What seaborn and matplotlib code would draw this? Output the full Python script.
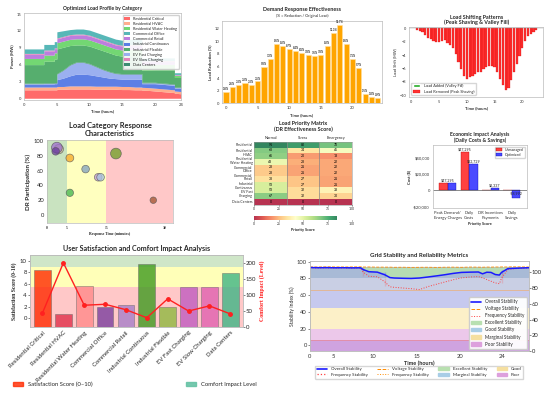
import numpy as np
import pandas as pd
import seaborn as sns
import matplotlib.pyplot as plt
from matplotlib.patches import Patch
from matplotlib.lines import Line2D
from matplotlib.ticker import FuncFormatter

# ---------------- data ----------------
# load profile by category (MW)
profile_t = [0, 3, 3, 4.6, 4.6, 5, 5, 6, 7, 8, 9, 10, 11, 12, 13, 14, 15, 16, 17, 18, 18, 19, 20, 21, 22, 23, 23, 24]
res_critical = [1.5, 1.5, 1.5, 1.5, 1.5, 1.5, 1.6, 1.6, 1.65, 1.65, 1.65, 1.65, 1.6, 1.6, 1.6, 1.6, 1.55, 1.55, 1.5, 1.5, 1.45, 1.4, 1.3, 1.2, 1.1, 1.0, 0.9, 0.8]
res_hvac = [0.5, 0.5, 0.5, 0.5, 0.5, 0.5, 0.5, 0.5, 0.55, 0.55, 0.55, 0.55, 0.55, 0.55, 0.55, 0.55, 0.55, 0.55, 0.5, 0.5, 0.5, 0.5, 0.5, 0.5, 0.5, 0.5, 0.4, 0.4]
ind_continuous = [0.5, 0.5, 0.55, 0.55, 0.6, 0.6, 1.2, 1.5, 1.8, 2.1, 2.1, 2.0, 1.85, 1.65, 1.45, 1.35, 1.3, 1.3, 1.4, 1.4, 0.65, 0.7, 0.8, 0.8, 0.8, 0.8, 0.5, 0.6]
ev_fast = [0.1, 0.1, 0.1, 0.1, 0.1, 0.1, 1.0, 1.4, 1.9, 2.1, 2.1, 1.9, 1.6, 1.3, 1.1, 0.9, 0.9, 0.9, 0.9, 0.9, 0.15, 0.15, 0.15, 0.15, 0.15, 0.15, 0.1, 0.1]
data_centers = [0.1, 0.1, 0.1, 0.1, 0.1, 0.1, 0.1, 0.1, 0.1, 0.1, 0.1, 0.1, 0.1, 0.1, 0.1, 0.1, 0.1, 0.1, 0.1, 0.1, 0.1, 0.1, 0.1, 0.1, 0.1, 0.1, 0.1, 0.1]
ind_flexible = [3.3, 3.3, 3.85, 3.85, 4.2, 4.2, 4.4, 4.0, 3.4, 3.0, 3.0, 3.1, 3.2, 3.3, 3.3, 3.2, 3.1, 3.2, 3.2, 3.2, 2.15, 2.15, 2.2, 2.3, 2.4, 2.5, 1.7, 1.7]
res_water = [1.1, 1.1, 1.1, 1.1, 1.1, 1.1, 1.1, 1.1, 1.1, 1.1, 1.1, 1.1, 1.1, 1.1, 1.1, 1.1, 1.1, 1.1, 1.1, 1.1, 1.0, 1.0, 1.0, 1.0, 1.0, 1.0, 0.4, 0.4]
com_retail = [0.75, 0.75, 0.75, 0.75, 0.75, 0.75, 0.7, 0.7, 0.7, 0.7, 0.7, 0.7, 0.7, 0.7, 0.7, 0.7, 0.7, 0.7, 0.7, 0.7, 0.5, 0.5, 0.5, 0.5, 0.5, 0.5, 0.1, 0.1]
ev_slow = [0.15, 0.15, 0.15, 0.15, 0.15, 0.15, 0.15, 0.15, 0.15, 0.15, 0.15, 0.15, 0.15, 0.15, 0.15, 0.15, 0.15, 0.15, 0.15, 0.15, 0.15, 0.15, 0.15, 0.15, 0.15, 0.15, 0.05, 0.05]
com_office = [0.8, 0.8, 1.0, 1.0, 1.1, 1.1, 1.1, 1.0, 0.9, 0.9, 0.9, 0.9, 0.9, 0.9, 0.9, 0.9, 0.9, 0.95, 1.0, 1.0, 0.5, 0.5, 0.5, 0.5, 0.5, 0.5, 0.3, 0.3]

categories = ['Residential Critical', 'Residential HVAC', 'Residential Water Heating',
              'Commercial Office', 'Commercial Retail', 'Industrial Continuous',
              'Industrial Flexible', 'EV Fast Charging', 'EV Slow Charging', 'Data Centers']

# demand response effectiveness (%)
dr_hours = list(range(25))
dr_pct = [1.8, 2.6, 3.0, 3.2, 3.0, 3.5, 5.8, 7.2, 9.6, 9.2, 8.7, 8.4, 8.1, 7.8, 7.6, 7.8,
          9.2, 11.3, 12.7, 9.6, 7.1, 5.7, 1.5, 1.0, 0.9]

# load shifting (MW), half-hourly
shift_t = np.arange(0, 24, 0.5)
load_shift = [0.1, 0.1, -0.2, -0.4, -0.6, -1.0, -1.4, -1.6, -1.85, -2.05, -2.1, -1.95,
              -1.7, -2.2, -2.45, -2.9, -3.9, -5.1, -6.1, -7.2, -7.6, -7.3, -7.1, -6.8,
              -6.6, -6.6, -6.1, -5.75, -5.6, -5.6, -5.85, -6.6, -7.6, -8.5, -9.2, -8.9,
              -7.8, -6.6, -5.4, -4.15, -2.9, -1.95, -1.2, -0.85, -0.5, -0.25, 0.1, 0.05]

# response characteristics
resp_time = [3.0, 2.5, 2.2, 9.8, 13.0, 27.0, 17.5, 5.8, 5.8, 13.6]
resp_part = [89, 91, 86, 62, 51, 20, 83, 77, 30, 51]
resp_size = [45, 60, 30, 30, 30, 22, 60, 32, 28, 30]
resp_colors = ['#c8b49a', '#a070d0', '#6a3d9a', '#7f9fbf', '#c09ad8', '#a0522d',
               '#6b9e23', '#f5a623', '#3cb44b', '#a8c4e0']

# priority matrix
prio_cols = ['Normal', 'Stress', 'Emergency']
prio_normal = [91, 68, 66, 48, 28, 28, 33, 53, 53, 67, 0]
prio_stress = [80, 34, 20, 23, 21, 21, 27, 27, 32, 32, 0]
prio_emerg = [70, 45, 18, 22, 22, 22, 21, 21, 38, 30, 0]
prio_labels = ['Residential', 'Residential\nHVAC', 'Residential\nWater Heating',
               'Commercial\nOffice', 'Commercial\nRetail', 'Industrial\nContinuous',
               'EV Fast\nCharging', 'Data Centers']

# economics ($)
econ_cats = ['Peak Demand/\nEnergy Charges', 'Daily\nCosts', 'DR Incentives\nPayments', 'Daily\nSavings']
econ_unmanaged = [8600, 47295, 0, 0]
econ_optimized = [8600, 32729, 2337, -8992]
econ_text = ['$47,295', '$47,295', '$32,729', '$2,337', '-$8,992']

# satisfaction / comfort
satisfaction = [8.5, 0.75, 5.7, 2.0, 2.4, 9.4, 2.0, 5.5, 5.5, 7.9]
comfort = [44, 200, 68, 71, 54, 29, 88, 50, 66, 41]
sat_colors = ['#ff2a00', '#e0304a', '#ff8a8a', '#7b3f9e', '#a67fc8', '#3f9a1f',
              '#8fb840', '#c05cc0', '#e060b0', '#3fb585']

# grid stability (%)
stab_t = [0, 1, 2, 3, 4, 5, 6, 6.3, 6.3, 7, 8, 8.9, 8.9, 9.5, 10, 11, 12, 13, 14, 15, 16, 17,
          18, 19, 20, 20.5, 21, 21.5, 22, 22.5, 22.75, 22.75, 23.5, 24, 25, 26]
overall = [92.8, 92.6, 92.7, 92.5, 92.6, 92.4, 92.5, 92.4, 88.5, 87.8, 87.3, 87.0, 81.2, 80.8,
           80.3, 80.0, 79.8, 80.3, 81.5, 82.8, 84.2, 85.8, 87.0, 87.3, 87.5, 85.3, 87.2, 87.0,
           84.5, 83.8, 84.5, 89.5, 91.5, 91.8, 92.2, 92.6]
frequency = [92.3, 92.2, 92.4, 92.1, 92.3, 92.0, 92.2, 92.0, 83.0, 82.4, 81.8, 80.8, 70.5, 69.8,
             69.2, 68.4, 67.6, 66.5, 70.0, 72.8, 75.5, 78.2, 80.5, 81.5, 82.0, 80.5, 78.5, 76.5,
             74.5, 73.5, 74.5, 86.0, 90.5, 91.2, 91.8, 92.3]
voltage = [93.6, 93.5, 93.7, 93.6, 93.5, 93.6, 93.7, 93.5, 93.4, 93.5, 93.3, 93.4, 93.2, 93.3,
           93.1, 93.2, 93.0, 93.1, 93.2, 93.0, 93.2, 93.3, 93.1, 93.4, 93.3, 93.2, 93.4, 93.3,
           93.5, 93.4, 93.5, 93.6, 93.5, 93.7, 93.6, 93.5]
stab_bands = [(80, 93), (65, 80), (44, 65), (20, 44), (6, 20), (-7, 6)]
stab_band_colors = ['#a8bad6', '#c9cfe4', '#c6c9ee', '#fcf0c8', '#ecc8ea', '#cfa3e0']

# ---------------- style ----------------
sns.set_style("white")
plt.rcParams['font.family'] = ['Lato', 'DejaVu Sans']
plt.rcParams['axes.edgecolor'] = '#bbbbbb'
plt.rcParams['axes.linewidth'] = 0.5
plt.rcParams['xtick.major.size'] = 1.2
plt.rcParams['ytick.major.size'] = 1.2
plt.rcParams['xtick.major.width'] = 0.4
plt.rcParams['ytick.major.width'] = 0.4
plt.rcParams['xtick.major.pad'] = 1
plt.rcParams['ytick.major.pad'] = 1

fig = plt.figure(figsize=(5.5, 3.95), dpi=100)
fig.patch.set_facecolor('white')


def ticks(ax, fs):
    ax.tick_params(axis='both', labelsize=fs, colors='#333333')


# ---------- panel 1: stacked load profile ----------
ax1 = fig.add_axes([0.044, 0.747, 0.285, 0.220])
layers = {
    'Residential Critical': (res_critical, '#ff5050'),
    'Residential HVAC': (res_hvac, '#ffa07a'),
    'Industrial Continuous': (ind_continuous, '#4169e1'),
    'EV Fast Charging': (ev_fast, '#8aa2ee'),
    'Data Centers': (data_centers, '#1f7a5c'),
    'Industrial Flexible': (ind_flexible, '#38a055'),
    'Residential Water Heating': (res_water, '#5ad05a'),
    'Commercial Retail': (com_retail, '#b266d9'),
    'EV Slow Charging': (ev_slow, '#e070b0'),
    'Commercial Office': (com_office, '#3aabab'),
}
names = list(layers)
ax1.stackplot(profile_t, *[layers[n][0] for n in names], colors=[layers[n][1] for n in names],
              labels=names, alpha=0.85, linewidth=0)
h, l = ax1.get_legend_handles_labels()
order = [l.index(n) for n in categories]
ax1.legend([h[i] for i in order], [l[i] for i in order], loc='upper right', fontsize=2.8,
           handlelength=1.6, handleheight=0.8, labelspacing=0.3, borderpad=0.4, framealpha=0.9)
ax1.set_xlim(0, 24)
ax1.set_ylim(-0.3, 15.2)
ax1.set_xticks([0, 5, 10, 15, 20, 24])
ax1.set_yticks([0, 3, 6, 9, 12, 15])
ax1.set_title('Optimized Load Profile by Category', fontsize=3.6, fontweight='bold', pad=2)
ax1.set_xlabel('Time (hours)', fontsize=3, fontweight='bold', labelpad=1.5)
ax1.set_ylabel('Power (MW)', fontsize=3, fontweight='bold', labelpad=1.5)
ticks(ax1, 3)

# ---------- panel 2: DR effectiveness ----------
ax2 = fig.add_axes([0.404, 0.739, 0.290, 0.208])
sns.barplot(x=dr_hours, y=dr_pct, color='#ffa500', edgecolor='#ffe0a0', linewidth=0.4,
            saturation=1, width=0.8, ax=ax2)
for i, v in enumerate(dr_pct):
    ax2.text(i, v + 0.15, f'{v:.1f}%', ha='center', va='bottom', fontsize=2.0, fontweight='bold')
ax2.set_xlim(-0.6, 24.6)
ax2.set_ylim(0, 13.3)
ax2.set_xticks([0, 5, 10, 15, 20])
ax2.set_xticklabels(['0', '5', '10', '15', '20'])
ax2.set_yticks([0, 2, 4, 6, 8, 10, 12])
ax2.set_ylabel('Load Reduction (%)', fontsize=3, fontweight='bold', labelpad=1.5)
ax2.set_xlabel('Time (hours)', fontsize=3, fontweight='bold', labelpad=2.5)
fig.text(0.549, 0.975, 'Demand Response Effectiveness', ha='center', va='center',
         fontsize=3.9, fontweight='bold')
fig.text(0.549, 0.960, '(% = Reduction / Original Load)', ha='center', va='center', fontsize=2.8)
ticks(ax2, 3)

# ---------- panel 3: load shifting ----------
ax3 = fig.add_axes([0.744, 0.754, 0.244, 0.177])
shift = np.array(load_shift)
ax3.bar(shift_t[shift > 0], shift[shift > 0], width=0.4, color='#22aa22',
        label='Load Added (Valley Fill)')
ax3.bar(shift_t[shift <= 0], shift[shift <= 0], width=0.4, color='#ff1a1a', alpha=0.9,
        edgecolor='#cc0000', linewidth=0.2, label='Load Removed (Peak Shaving)')
ax3.axhline(0, color='#999999', lw=0.3)
ax3.set_xlim(-0.4, 23.8)
ax3.set_ylim(-10.3, 0.15)
ax3.set_xticks([0, 5, 10, 15, 20])
ax3.set_yticks([0, -2, -4, -6, -8, -10])
ax3.legend(loc='lower left', fontsize=2.8, handlelength=2, borderpad=0.4, labelspacing=0.4)
ax3.set_title('Load Shifting Patterns\n(Peak Shaving & Valley Fill)', fontsize=3.9,
              fontweight='bold', pad=2, linespacing=1.1)
ax3.set_xlabel('Time (hours)', fontsize=3, fontweight='bold', labelpad=1.5)
ax3.set_ylabel('Load Shift (MW)', fontsize=2.8, labelpad=1.5)
ticks(ax3, 2.8)

# ---------- panel 4: response characteristics ----------
ax4 = fig.add_axes([0.0855, 0.435, 0.229, 0.210])
ax4.axvspan(0, 5, color='#c9e3c0', lw=0)
ax4.axvspan(5, 15, color='#ffffbf', lw=0)
ax4.axvspan(15, 32, color='#ffc8c8', lw=0)
resp_df = pd.DataFrame({'time': resp_time, 'part': resp_part, 'size': resp_size,
                        'cat': categories})
sns.scatterplot(data=resp_df, x='time', y='part', hue='cat', size='size', sizes=(22, 60),
                palette=resp_colors, alpha=0.75, edgecolor='#555555', linewidth=0.5,
                legend=False, ax=ax4)
ax4.set_xlim(0, 32)
ax4.set_ylim(-11, 101)
ax4.set_xticks([0, 5, 15, 30])
ax4.set_yticks([0, 20, 40, 60, 80, 100])
ax4.tick_params(axis='y', labelsize=4.2)
ax4.tick_params(axis='x', labelsize=2.6)
for lab in ax4.get_xticklabels():
    lab.set_family('Liberation Serif')
    lab.set_fontweight('bold')
ax4.set_xlabel('Response Time (minutes)', fontsize=2.8, family='Liberation Serif',
               fontweight='bold', labelpad=1)
ax4.set_ylabel('DR Participation (%)', fontsize=4.5, fontweight='bold', labelpad=2)
ax4.set_title('Load Category Response\nCharacteristics', fontsize=5.4, fontweight='bold',
              pad=3, linespacing=1.1)

# ---------- panel 5: priority matrix ----------
ax5 = fig.add_axes([0.462, 0.482, 0.178, 0.159])
cax5 = fig.add_axes([0.462, 0.444, 0.178, 0.010])
prio_df = pd.DataFrame({'Normal': prio_normal, 'Stress': prio_stress, 'Emergency': prio_emerg})
sns.heatmap(prio_df, ax=ax5, cmap='RdYlGn', vmin=0, vmax=85, annot=True, fmt='d',
            annot_kws={'size': 2.5, 'color': 'black'}, cbar_ax=cax5,
            cbar_kws={'orientation': 'horizontal'}, yticklabels=False, alpha=0.8)
for v in (1, 2):
    ax5.axvline(v, color='#888888', lw=0.5)
for s in ax5.spines.values():
    s.set_visible(True)
    s.set_color('#999999')
    s.set_linewidth(0.4)
# numeric scale under the matrix (twiny resets the main x axis to bottom, so do it first)
ax5b = ax5.twiny()
ax5b.set_xlim(0, 100)
ax5b.xaxis.set_ticks_position('bottom')
ax5b.xaxis.set_label_position('bottom')
ax5b.set_xticks([0, 25, 50, 75, 100])
ax5b.tick_params(axis='x', labelsize=2.4, length=1, pad=1)
for s in ax5b.spines.values():
    s.set_visible(False)
ax5.xaxis.tick_top()
ax5.tick_params(axis='x', labelsize=2.8, length=0, pad=1)
ax5.set_yticks(np.linspace(0.5, len(prio_normal) - 0.5, len(prio_labels)))
ax5.set_yticklabels(prio_labels, fontsize=2.5, linespacing=0.9)
ax5.tick_params(axis='y', length=0, pad=1)
cax5.tick_params(labelsize=2.4, length=1, pad=0.5)
cax5.set_xticks([0, 25, 50, 75, 100])
cax5.set_xlabel('Priority Score', fontsize=2.8, fontweight='bold', labelpad=1.8)
ax5.set_title('Load Priority Matrix\n(DR Effectiveness Score)', fontsize=3.9,
              fontweight='bold', pad=4, linespacing=1.1)

# ---------- panel 6: economics ----------
ax6 = fig.add_axes([0.787, 0.473, 0.171, 0.160])
x6 = np.arange(len(econ_cats))
ax6.bar(x6 - 0.2, econ_unmanaged, 0.4, color='#ff2020', alpha=0.85, edgecolor='#aa0000',
        linewidth=0.3, label='Unmanaged')
ax6.bar(x6 + 0.2, econ_optimized, 0.4, color='#2a2aff', alpha=0.85, edgecolor='#0000aa',
        linewidth=0.3, label='Optimized')
ax6.axhline(0, color='#333333', lw=0.4)
text_pos = [(0, econ_unmanaged[0]), (-0.2 + 1, econ_unmanaged[1]), (1.2, econ_optimized[1]),
            (2.2, econ_optimized[2]), (3.2, econ_optimized[3])]
for (xp, yp), t in zip(text_pos, econ_text):
    ax6.text(xp, yp + (800 if yp >= 0 else 2500), t, ha='center', va='bottom', fontsize=2.6)
ax6.set_xlim(-0.7, 3.7)
ax6.set_ylim(-22000, 56000)
ax6.set_yticks([40000, 20000, 0, -20000])
ax6.yaxis.set_major_formatter(FuncFormatter(
    lambda v, p: '0' if v == 0 else ('-' if v < 0 else '') + f'${abs(v):,.0f}'))
ax6.set_xticks(x6)
ax6.set_xticklabels(econ_cats, fontsize=2.6, linespacing=1.2)
ax6.legend(loc='upper right', fontsize=2.6, handlelength=1.8, borderpad=0.3, labelspacing=0.3)
ax6.set_ylabel('Cost ($)', fontsize=3, fontweight='bold', labelpad=1)
ax6.set_xlabel('Priority Score', fontsize=2.8, fontweight='bold', labelpad=1.5)
ax6.set_title('Economic Impact Analysis\n(Daily Costs & Savings)', fontsize=3.7,
              fontweight='bold', pad=2, linespacing=1.1)
ticks(ax6, 3)

# ---------- panel 7: satisfaction ----------
ax7 = fig.add_axes([0.0545, 0.172, 0.387, 0.182])
sat_floor = -1.5
ax7.axhspan(sat_floor, 5.5, color='#ffc8c8', lw=0)
ax7.axhspan(5.5, 9.0, color='#ffffb8', lw=0)
ax7.axhspan(9.0, 11.0, color='#cfe6c8', lw=0)
x7 = np.arange(len(categories))
ax7.bar(x7, np.array(satisfaction) - sat_floor, bottom=sat_floor, width=0.8, color=sat_colors,
        alpha=0.8, edgecolor='#666666', linewidth=0.4)
ax7.set_ylim(sat_floor, 11.0)
ax7.set_xlim(-0.6, 9.6)
ax7.set_yticks([0, 2, 4, 6, 8, 10])
ax7.set_xticks(x7)
ax7.set_xticklabels(categories, rotation=45, ha='right', rotation_mode='anchor', fontsize=4.3)
ax7.tick_params(axis='y', labelsize=4.3)
ax7.set_ylabel('Satisfaction Score (0-10)', fontsize=4, family='Liberation Serif',
               fontweight='bold', labelpad=2)
ax7t = ax7.twinx()
ax7t.plot(x7, comfort, color='#ff2020', lw=1.0, marker='o', markersize=2.5)
ax7t.set_ylim(0, 224)
ax7t.set_yticks([0, 50, 100, 150, 200])
ax7t.tick_params(axis='y', labelsize=4.3)
ax7t.set_ylabel('Comfort Impact (Level)', fontsize=4.2, family='Liberation Serif',
                fontweight='bold', color='#ff2020', labelpad=2)
ax7.set_title('User Satisfaction and Comfort Impact Analysis', fontsize=5.1,
              fontweight='bold', pad=3)
fig.legend([Patch(color='#ff2a00', alpha=0.8), Patch(color='#66c2a5', alpha=0.9)],
           ['Satisfaction Score (0–10)', 'Comfort Impact Level'], loc='center',
           bbox_to_anchor=(0.245, 0.027), ncol=2, frameon=False, fontsize=4.2,
           columnspacing=16, handlelength=1.8)

# ---------- panel 8: grid stability ----------
ax8 = fig.add_axes([0.5636, 0.111, 0.398, 0.228])
for (lo, hi), c in zip(stab_bands, stab_band_colors):
    ax8.axhspan(lo, hi, color=c, lw=0)
ax8.axhline(65.5, color='#f4a460', lw=0.4)
ax8.axhline(6, color='#f08080', lw=0.4)
ax8.fill_between(stab_t, overall, voltage, color='#b8e0b0', alpha=0.9, lw=0)
stab_df = pd.DataFrame({'t': stab_t, 'overall': overall, 'voltage': voltage, 'freq': frequency})
sns.lineplot(data=stab_df, x='t', y='voltage', color='#ff8c00', lw=0.6, ls='--', ax=ax8)
sns.lineplot(data=stab_df, x='t', y='freq', color='#ff4040', lw=0.7, ls=':', ax=ax8)
sns.lineplot(data=stab_df, x='t', y='overall', color='#1a1aff', lw=1.1, ax=ax8)
ax8.set_xlim(0, 26)
ax8.set_ylim(-7, 100.5)
ax8.set_xticks([0, 2.8, 7.5, 12.7, 17.8, 22.8])
ax8.set_xticklabels(['0', '5', '10', '15', '20', '24'])
ax8.set_yticks([0, 20, 40, 60, 80, 100])
ax8.set_xlabel('Time (hours)', fontsize=4, fontweight='bold', labelpad=1)
ax8.set_ylabel('Stability Index (%)', fontsize=3.6, labelpad=1.5)
ticks(ax8, 4.2)
ax8t = ax8.twinx()
ax8t.set_ylim(0, 114)
ax8t.set_yticks([0, 20, 40, 60, 80, 100])
ax8t.tick_params(axis='y', labelsize=4.2)
ax8.set_title('Grid Stability and Reliability Metrics', fontsize=4.4, fontweight='bold', pad=3)
inner = [Line2D([], [], color='#1a1aff', lw=1.2), Line2D([], [], color='#ff8c00', lw=0.7, ls='--'),
         Line2D([], [], color='#ff4040', lw=0.7, ls=':'), Patch(color='#b8e0b0'),
         Patch(color='#a8cde6'), Patch(color='#f5dfa0'), Patch(color='#dda0dd')]
ax8t.legend(inner, ['Overall Stability', 'Voltage Stability', 'Frequency Stability',
                    'Excellent Stability', 'Good Stability', 'Marginal Stability',
                    'Poor Stability'], loc='lower right', fontsize=3.3, handlelength=2.2,
            labelspacing=0.45, borderpad=0.5, framealpha=0.95)
outer = [Line2D([], [], color='#1a1aff', lw=1.2), Line2D([], [], color='#ff4040', lw=0.9, ls=':'),
         Line2D([], [], color='#ff8c00', lw=0.7, ls='--'), Line2D([], [], color='#ff8c00', lw=0.7, ls=':'),
         Patch(color='#b8e0b0'), Patch(color='#a8cde6'), Patch(color='#f5dfa0'), Patch(color='#dda0dd')]
fig.legend(outer, ['Overall Stability', 'Frequency Stability', 'Voltage Stability',
                   'Frequency Stability', 'Excellent Stability', 'Marginal Stability', 'Good',
                   'Poor'], loc='center', bbox_to_anchor=(0.762, 0.058), ncol=4, fontsize=3.2,
           handlelength=2.4, columnspacing=2.2, labelspacing=0.3, borderpad=0.4)

fig.savefig('out.png', dpi=100, facecolor=fig.get_facecolor())
